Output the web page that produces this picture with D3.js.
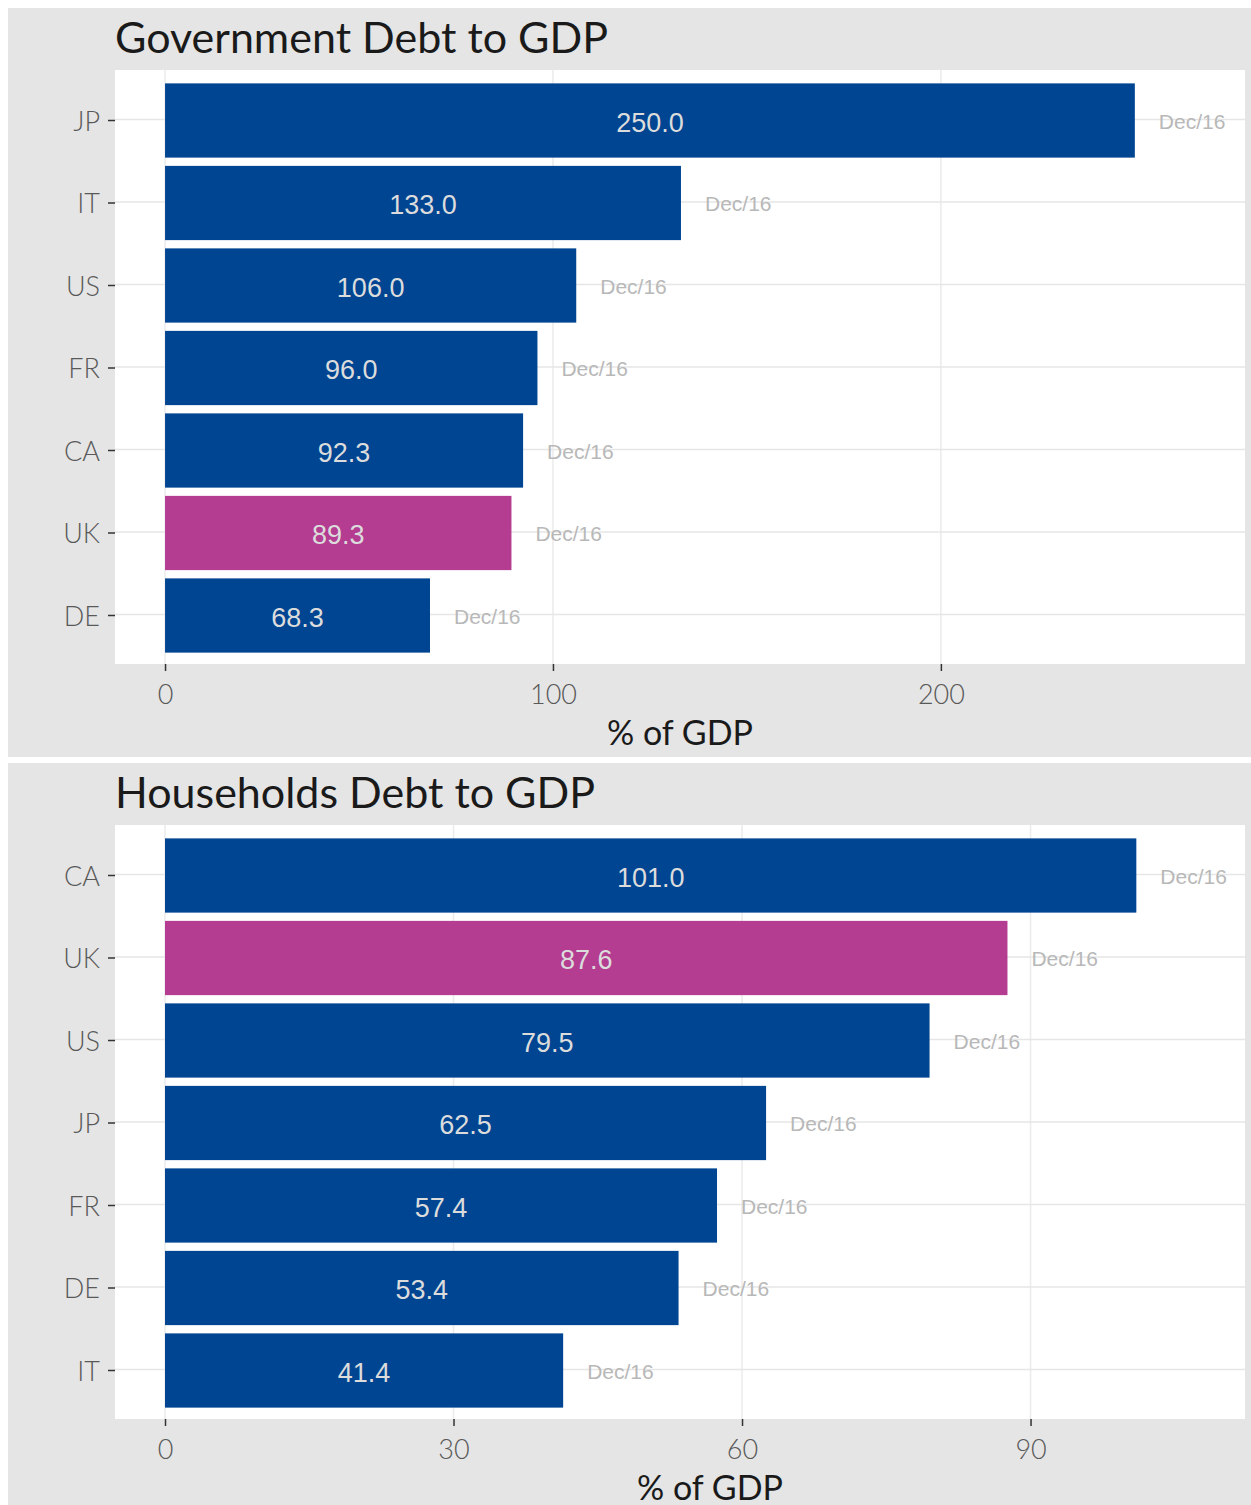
<!DOCTYPE html>
<html>
<head>
<meta charset="utf-8">
<script src="https://cdn.jsdelivr.net/npm/d3@7"></script>
<style>
  body { margin: 0; background: #fff; }
  svg { display: block; }
</style>
</head>
<body>
<svg id="chart"></svg>
<script>
const width = 1251;
const height = 1505;

// data
const govCountries = ["JP", "IT", "US", "FR", "CA", "UK", "DE"];
const govValues = [250.0, 133.0, 106.0, 96.0, 92.3, 89.3, 68.3];
const govDates = ["Dec/16", "Dec/16", "Dec/16", "Dec/16", "Dec/16", "Dec/16", "Dec/16"];
const govTicks = [0, 100, 200];
const govLimits = [-12.9, 278.4];

const hhCountries = ["CA", "UK", "US", "JP", "FR", "DE", "IT"];
const hhValues = [101.0, 87.6, 79.5, 62.5, 57.4, 53.4, 41.4];
const hhDates = ["Dec/16", "Dec/16", "Dec/16", "Dec/16", "Dec/16", "Dec/16", "Dec/16"];
const hhTicks = [0, 30, 60, 90];
const hhLimits = [-5.2, 112.3];

const highlight = "UK";

const blue = "#004592";
const pink = "#b43c91";
const axisFont = "Lato, 'Open Sans', sans-serif";
const labelFont = "'Liberation Sans', Arial, sans-serif";

const svg = d3.select("#chart")
    .attr("width", width)
    .attr("height", height);

function drawPanel(cfg) {
  const g = svg.append("g");

  // background
  g.append("rect")
      .attr("x", 8)
      .attr("y", cfg.top)
      .attr("width", width - 8)
      .attr("height", cfg.bgHeight)
      .attr("fill", "#e5e5e5");

  const plotTop = cfg.top + 62;
  const plotBottom = plotTop + 594;
  const plotLeft = 115;
  const plotRight = 1245;

  g.append("rect")
      .attr("x", plotLeft)
      .attr("y", plotTop)
      .attr("width", plotRight - plotLeft)
      .attr("height", plotBottom - plotTop)
      .attr("fill", "#fff");

  const data = cfg.countries.map((c, i) => ({
    country: c, value: cfg.values[i], date: cfg.dates[i]
  }));

  const x = d3.scaleLinear()
    .domain(cfg.limits)
    .range([plotLeft, plotRight]);

  const y = d3.scaleBand()
    .domain(cfg.countries)
    .range([plotTop, plotBottom])
    .paddingInner(0.1)
    .paddingOuter(0.15);

  // grid
  g.append("g")
    .selectAll("line")
    .data(cfg.ticks)
    .enter()
    .append("line")
      .attr("x1", d => x(d))
      .attr("x2", d => x(d))
      .attr("y1", plotTop)
      .attr("y2", plotBottom)
      .attr("stroke", "#ebebeb")
      .attr("stroke-width", 1.5);

  g.append("g")
    .selectAll("line")
    .data(cfg.countries)
    .enter()
    .append("line")
      .attr("x1", plotLeft)
      .attr("x2", plotRight)
      .attr("y1", d => y(d) + y.bandwidth() / 2)
      .attr("y2", d => y(d) + y.bandwidth() / 2)
      .attr("stroke", "#e6e6e6")
      .attr("stroke-width", 1.5);

  // bars
  g.append("g")
    .selectAll("rect")
    .data(data)
    .enter()
    .append("rect")
      .attr("x", x(0))
      .attr("y", d => y(d.country) + 1)
      .attr("width", d => x(d.value) - x(0))
      .attr("height", y.bandwidth())
      .attr("fill", d => d.country === highlight ? pink : blue);

  // value labels
  g.append("g")
    .selectAll("text")
    .data(data)
    .enter()
    .append("text")
      .attr("x", d => (x(d.value) + x(0)) / 2)
      .attr("y", d => y(d.country) + y.bandwidth() / 2)
      .attr("dy", "0.45em")
      .attr("text-anchor", "middle")
      .style("font-family", labelFont)
      .style("font-size", "27px")
      .attr("fill", "#dcdcdc")
      .text(d => d.value.toFixed(1));

  // date labels
  g.append("g")
    .selectAll("text")
    .data(data)
    .enter()
    .append("text")
      .attr("x", d => x(d.value) + 24)
      .attr("y", d => y(d.country) + y.bandwidth() / 2)
      .attr("dy", "0.45em")
      .style("font-family", labelFont)
      .style("font-size", "21px")
      .attr("fill", "#b8b8b8")
      .text(d => d.date);

  // axes
  const xAxis = d3.axisBottom(x)
    .tickValues(cfg.ticks)
    .tickSize(7)
    .tickPadding(14)
    .tickFormat(d3.format("d"));

  const yAxis = d3.axisLeft(y)
    .tickSize(7)
    .tickPadding(8);

  const xg = g.append("g")
      .attr("transform", `translate(0, ${plotBottom})`)
      .call(xAxis);

  const yg = g.append("g")
      .attr("transform", `translate(${plotLeft}, 1)`)
      .call(yAxis);

  [xg, yg].forEach(ax => {
    ax.select(".domain").remove();
    ax.selectAll(".tick line").attr("stroke", "#333").attr("stroke-width", 1.5);
    ax.selectAll(".tick text")
      .attr("fill", "#595959")
      .style("font-family", axisFont)
      .style("font-weight", 300)
      .style("font-size", "27px");
  });
  yg.selectAll(".tick text").attr("dy", "0.38em");

  // titles
  g.append("text")
      .attr("x", plotLeft)
      .attr("y", cfg.top + 45)
      .style("font-family", axisFont)
      .style("font-size", "43px")
      .attr("fill", "#1a1a1a")
      .text(cfg.title);

  g.append("text")
      .attr("x", cfg.xTitleCenter)
      .attr("y", plotBottom + 81)
      .attr("text-anchor", "middle")
      .style("font-family", axisFont)
      .style("font-size", "34px")
      .attr("fill", "#1a1a1a")
      .text("% of GDP");
}

drawPanel({
  top: 8, bgHeight: 749, title: "Government Debt to GDP",
  countries: govCountries, values: govValues, dates: govDates,
  ticks: govTicks, limits: govLimits, xTitleCenter: 680
});

drawPanel({
  top: 763, bgHeight: 742, title: "Households Debt to GDP",
  countries: hhCountries, values: hhValues, dates: hhDates,
  ticks: hhTicks, limits: hhLimits, xTitleCenter: 710
});
</script>
</body>
</html>
